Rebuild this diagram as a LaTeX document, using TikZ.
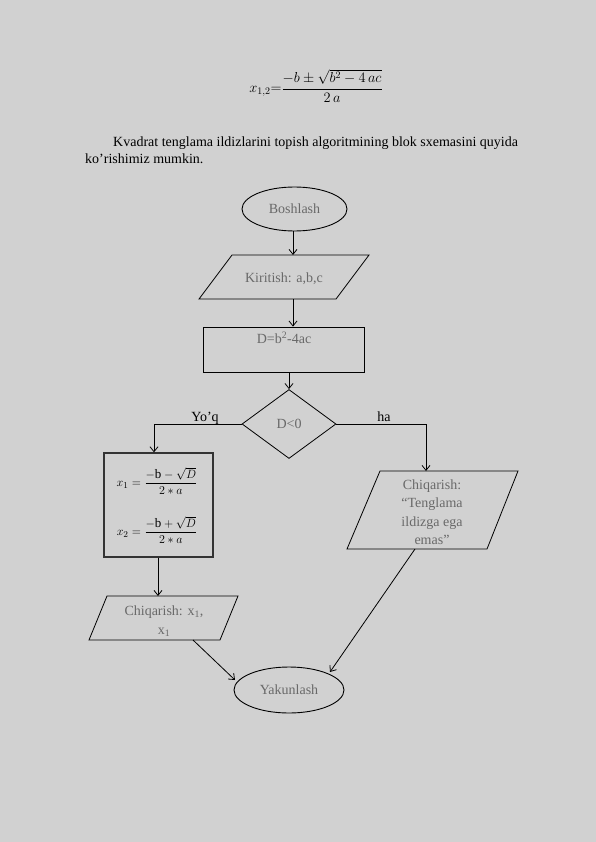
\documentclass[tikz,border=0pt]{standalone}
\usepackage{amsmath}
\usepackage{fontspec}
\setmainfont{Liberation Serif}
\usetikzlibrary{shapes.geometric,arrows.meta}
\definecolor{bg}{RGB}{209,209,209}
\definecolor{lbl}{RGB}{105,105,105}
\begin{document}
\begin{tikzpicture}[x=1pt,y=-1pt,
  conn/.style={line width=0.8pt},
  arr/.style={conn,-{Straight Barb[length=5pt,width=8pt]}},
  term/.style={ellipse,draw,line width=0.9pt,inner sep=0pt},
  shapeline/.style={draw,line width=0.8pt},
  lbltext/.style={text=lbl,font=\fontsize{14}{18.5}\selectfont,align=center},
  bodytext/.style={font=\fontsize{14}{16}\selectfont,inner sep=0pt,anchor=base west},
  branch/.style={font=\fontsize{14}{16}\selectfont,inner sep=0pt}]
\fill[bg] (0,0) rectangle (596,842);
\useasboundingbox (0,0) rectangle (596,842);

% top formula
\node[font=\fontsize{14}{16}\selectfont] (formula) at (316,86)
  {$x_{1,2}{=}\dfrac{-b\pm\sqrt{b^2-4\,ac}}{2\,a}$};

% paragraph
\node[bodytext] (par1) at (113,147) {Kvadrat tenglama ildizlarini topish algoritmining blok sxemasini quyida};
\node[bodytext] (par2) at (85,164) {ko’rishimiz mumkin.};

% start
\node[term,minimum width=105pt,minimum height=44pt,lbltext] (start) at (294.5,209) {Boshlash};

% input parallelogram
\draw[shapeline] (232,255) -- (369,255) -- (336,299) -- (199,299) -- cycle;
\coordinate (in-t) at (293,255);
\coordinate (in-b) at (293,299);
\node[lbltext] (in) at (284,279) {Kiritish: a,b,c};

% calc rectangle
\node[shapeline,minimum width=161pt,minimum height=45pt,inner sep=0pt] (calc) at (283.5,349.5) {};
\node[lbltext,anchor=north,inner sep=0pt] (calctext) at (284,332) {D=b\textsuperscript{2}-4ac};

% decision
\node[diamond,shapeline,minimum width=94pt,minimum height=69pt,inner sep=0pt,lbltext] (dec) at (289,424) {D<0};

% solution box
\node[draw,line width=1.3pt,draw=black!80,minimum width=109pt,minimum height=104pt,inner sep=0pt] (sol) at (158.5,505) {};
\node[font=\fontsize{13}{15}\selectfont] (x1) at (157,481) {$x_1=\dfrac{-\mathrm{b}-\sqrt{D}}{2*a}$};
\node[font=\fontsize{13}{15}\selectfont] (x2) at (157,530) {$x_2=\dfrac{-\mathrm{b}+\sqrt{D}}{2*a}$};

% output left
\draw[shapeline] (107,596) -- (238,596) -- (220,640) -- (89,640) -- cycle;
\coordinate (outl-t) at (158,596);
\coordinate (outl-b) at (193,640);
\node[lbltext] (outl) at (164,621) {Chiqarish: x\textsubscript{1},\\x\textsubscript{1}};

% output right
\draw[shapeline] (380,471) -- (518,471) -- (487,549) -- (347,549) -- cycle;
\coordinate (outr-t) at (426,471);
\coordinate (outr-b) at (415,549);
\node[lbltext] (outr) at (432,512) {Chiqarish:\\“Tenglama\\ildizga ega\\emas”};

% end
\node[term,minimum width=110pt,minimum height=46pt,lbltext] (end) at (289,690) {Yakunlash};
\coordinate (end-r) at (330,672);
\coordinate (end-l) at (235,680);

% connectors
\draw[arr] (start.south -| in-t) -- (in-t);
\draw[arr] (in-b) -- (calc.north -| in-b);
\draw[arr] (calc.south -| dec.north) -- (dec.north);
\coordinate (lcorner) at (154,424);
\coordinate (rcorner) at (426,424);
\draw[arr] (dec.west) -- (lcorner) -- (sol.north -| lcorner);
\draw[arr] (dec.east) -- (rcorner) -- (outr-t);
\draw[arr] (sol.south -| outl-t) -- (outl-t);
\draw[arr] (outl-b) -- (end-l);
\draw[arr] (outr-b) -- (end-r);

\node[branch,anchor=base] (no) at (205,421) {Yo’q};
\node[branch,anchor=base] (yes) at (384,421) {ha};
\end{tikzpicture}
\end{document}
